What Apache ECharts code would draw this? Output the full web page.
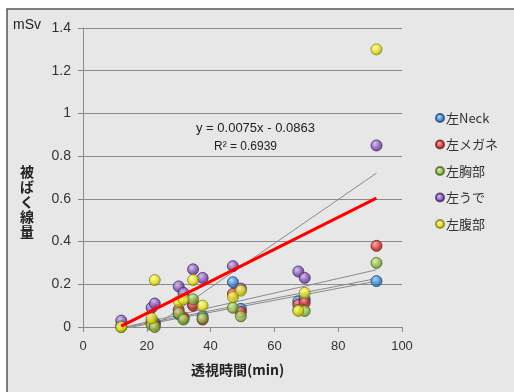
<!DOCTYPE html>
<html>
<head>
<meta charset="utf-8">
<script src="https://cdn.jsdelivr.net/npm/echarts@6/dist/echarts.min.js"></script>
<style>
  html, body { margin: 0; padding: 0; background: #ffffff; }
  #chart { width: 514px; height: 392px; }
</style>
</head>
<body>
<div id="chart"></div>
<script>
// Fluoroscopy time (min) for each procedure
const times = [12, 21.5, 22.5, 30, 31.5, 34.5, 37.5, 47, 49.5, 67.5, 69.5, 92];

// Dose (mSv) per measurement position
const neck    = [0.005, 0.03, 0.02, 0.06, 0.04, 0.11, 0.05, 0.21, 0.085, 0.12, 0.13, 0.215];
const glasses = [0.0, 0.02, 0.01, 0.08, 0.045, 0.10, 0.035, 0.155, 0.07, 0.105, 0.115, 0.38];
const chest   = [0.0, 0.01, 0.0, 0.065, 0.035, 0.13, 0.04, 0.09, 0.05, 0.08, 0.075, 0.30];
const arm     = [0.03, 0.09, 0.11, 0.19, 0.16, 0.27, 0.23, 0.285, 0.18, 0.26, 0.23, 0.85];
const abdomen = [0.0, 0.04, 0.22, 0.12, 0.13, 0.22, 0.10, 0.14, 0.17, 0.075, 0.16, 1.30];

const seriesNames = ['左Neck', '左メガネ', '左胸部', '左うで', '左腹部'];
const seriesValues = [neck, glasses, chest, arm, abdomen];

// Linear trendlines: slope, intercept, visible x range
const trendSlopes     = [0.0075, 0.0103, 0.0034, 0.0028, 0.0029];
const trendIntercepts = [-0.0863, -0.227, -0.045, -0.043, -0.040];
const trendFrom       = [12, 22, 13.2, 15.4, 13.8];
const trendTo         = [92, 92, 92, 92, 92];

// Axis ticks
const xTicks = { min: 0, max: 100, step: 20 };
const yTicks = { min: 0, max: 1.4, step: 0.2 };

const sphereColors = [
  ['#a8d4f6', '#3180cc', '#1b4a7c'],
  ['#f6a0a0', '#d42a2a', '#7c1616'],
  ['#d8eea8', '#8cb642', '#4c6a1c'],
  ['#d2b8ee', '#7c4cae', '#44286a'],
  ['#ffffa8', '#e2de12', '#86860a']
];

function sphere(c) {
  return {
    type: 'radial', x: 0.38, y: 0.35, r: 0.72,
    colorStops: [
      { offset: 0, color: c[0] },
      { offset: 0.55, color: c[1] },
      { offset: 1, color: c[2] }
    ]
  };
}

const scatterSeries = seriesNames.map((name, i) => ({
  name: name,
  type: 'scatter',
  symbol: 'circle',
  symbolSize: 11,
  z: 3,
  itemStyle: { color: sphere(sphereColors[i]), borderColor: sphereColors[i][2], borderWidth: 1 },
  data: times.map((t, k) => [t, seriesValues[i][k]])
}));

const trendSeries = trendSlopes.map((m, i) => ({
  type: 'line',
  silent: true,
  symbol: 'none',
  z: i === 0 ? 4 : 2,
  lineStyle: i === 0 ? { color: '#ff0000', width: 3 } : { color: '#8a8a8a', width: 1 },
  data: [
    [trendFrom[i], m * trendFrom[i] + trendIntercepts[i]],
    [trendTo[i], m * trendTo[i] + trendIntercepts[i]]
  ]
}));

const chart = echarts.init(document.getElementById('chart'), null, { renderer: 'canvas' });

const jp = '"Noto Sans CJK JP", "Noto Sans", sans-serif';
const latin = '"Liberation Sans", "DejaVu Sans", sans-serif';

chart.setOption({
  animation: false,
  backgroundColor: '#ffffff',
  grid: { left: 83, top: 28, width: 319, height: 299, containLabel: false },
  xAxis: {
    type: 'value',
    min: xTicks.min, max: xTicks.max, interval: xTicks.step,
    axisLine: { show: true, lineStyle: { color: '#8a8a8a', width: 1 } },
    axisTick: { show: true, length: 5, lineStyle: { color: '#8a8a8a' } },
    axisLabel: { color: '#333', fontSize: 13, fontFamily: latin, margin: 13 },
    splitLine: { show: false }
  },
  yAxis: {
    type: 'value',
    min: yTicks.min, max: yTicks.max, interval: yTicks.step,
    axisLine: { show: true, lineStyle: { color: '#8a8a8a', width: 1 } },
    axisTick: { show: true, length: 5, lineStyle: { color: '#8a8a8a' } },
    axisLabel: { color: '#333', fontSize: 14, fontFamily: latin, margin: 12 },
    splitLine: { show: true, lineStyle: { color: '#8c8c8c', width: 1.2 } }
  },
  legend: {
    orient: 'vertical',
    left: 430, top: 106,
    data: seriesNames,
    icon: 'circle',
    itemWidth: 8, itemHeight: 8,
    itemGap: 12.5,
    textStyle: { color: '#333', fontSize: 13, fontFamily: jp, lineHeight: 14, padding: [0, 0, 0, -3] }
  },
  graphic: [
    {
      type: 'rect', z: -10, silent: true,
      shape: { x: 7, y: 9, width: 520, height: 400 },
      style: { fill: '#e7e7e7', stroke: '#555', lineWidth: 1.5 }
    },
    {
      type: 'text', left: 13, top: 18,
      style: { text: 'mSv', fill: '#222', font: '14px ' + latin }
    },
    {
      type: 'text', left: 20, top: 164,
      style: { text: '被\nば\nく\n線\n量', fill: '#222', font: 'bold 14px ' + jp, lineHeight: 15, align: 'center' }
    },
    {
      type: 'text', left: 191, top: 363,
      style: { text: '透視時間(min)', fill: '#222', font: 'bold 14px ' + jp }
    },
    {
      type: 'text', left: 196, top: 122,
      style: { text: 'y = 0.0075x - 0.0863', fill: '#222', font: '13px ' + latin }
    },
    {
      type: 'text', left: 214, top: 141,
      style: { text: 'R² = 0.6939', fill: '#222', font: '12px ' + latin }
    }
  ],
  series: trendSeries.concat(scatterSeries)
});
</script>
</body>
</html>
